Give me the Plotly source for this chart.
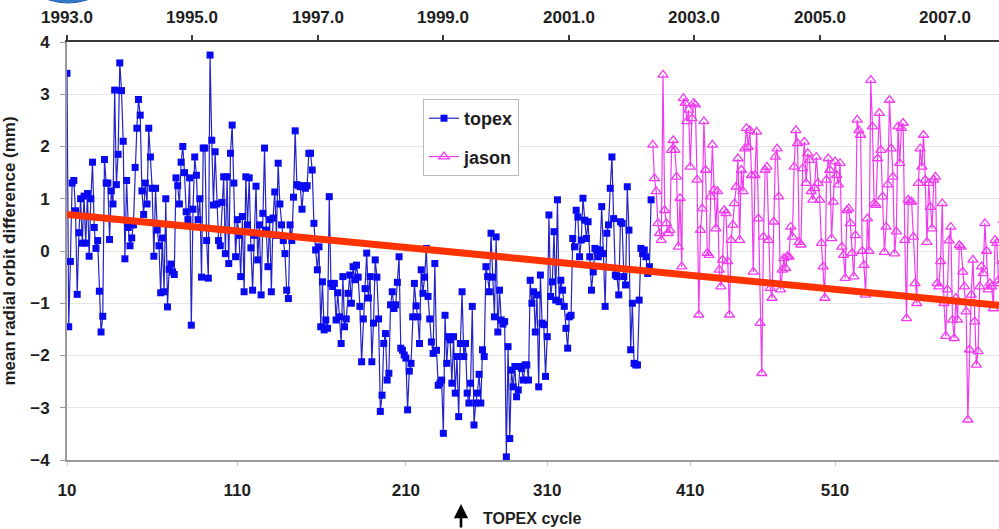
import plotly.graph_objects as go

# ---------------- data ----------------
topex_mm = [
    # 1993.0 - ~1993.5
    3.4, -1.45, -0.2, 1.3, 1.35, 0.77, -0.83, 0.35, 1.0, 0.15, 1.05, 0.15, 1.1, -0.1, 1.0, 1.7, 0.45, 0.05, 0.2,
    # ~1993.5 - ~1995.1
    -0.77, -1.55, -1.25, 1.75, 1.3, 1.3, 0.22, 1.15, 0.9, 3.08, 1.27, 1.85, 3.6, 3.07, 2.1, -0.15, 1.35, 0.45, 0.1,
    0.25, 0.5, 1.6, 2.35, 2.9, 2.6, 1.15, 0.7, 1.3, 0.9, 2.35, 1.8, 1.2, -0.1, 1.2, 0.4, 0.1, -0.8, 0.25, -0.78,
    1.0, -1.07, -0.35, -0.25, -0.4, -0.45, 1.4, 1.25, 0.9, 1.7, 2.0, 1.5, 0.75, 0.6, 1.4, -1.42, 0.8, 1.8, 1.45, 0.6,
    # ~1995.1 - ~1996.8
    1.0, -0.5, 1.97, 1.97, 0.2, -0.52, 3.75, 2.12, 0.88, 1.9, 0.9, 0.2, 0.1, 0.93, 1.42, -0.05, 1.42, -0.24, 1.87,
    2.41, 1.3, -0.11, 0.6, 0.3, -0.49, 0.66, -0.78, 1.42, 0.5, 1.4, 0.06, -0.75, 0.3, 1.24, -0.17, 0.5, -0.84, 0.72,
    1.97, 0.4, -0.3, 0.6, -0.78, 0.63, 1.13, 0.3, 1.68, 0.9, 0.5, 0.2, -0.05, -0.75, -0.91, 0.5, 0.2, 1.03, 2.3,
    1.27, 1.25,
    # ~1996.8 - ~2002.3
    1.23, 0.8, 1.25, 1.2, 1.25, 1.87, 1.87, 1.55, 0.53, 0.02, -0.36, 0.08, -1.45, -0.59, -1.51, -1.32, -1.48, 1.04,
    -0.62, -0.68, -0.62, -1.32, -0.8, -1.26, -1.77, -0.49, -1.45, -1.3, -0.81, -0.46, -1.0, -0.3, -0.55, -0.27,
    -0.5, -1.06, -2.12, -1.3, -0.72, -0.04, -0.9, -0.49, -2.12, -1.38, -0.17, -0.5, -1.3, -3.07, -2.76, -1.77,
    -1.58, -2.47, -2.34, -1.03, -0.78, -1.1, -1.03, -0.6, -0.11, -1.86, -1.9, -1.99, -2.05, -3.04, -2.3, -2.15,
    -1.26, -0.62, -1.05, -1.26, -1.77, -0.36, -0.81, -0.5, 0.05, -0.87, -1.3, -1.74, -1.96, -0.24, -1.9, -2.57,
    -2.53, -2.47, -3.49, -1.23, -2.15, -1.64, -1.7, -2.53, -1.64, -2.72, -2.02, -3.17, -1.77, -0.78, -2.02, -1.77,
    -2.72, -2.91, -2.53, -1.06, -3.33, -2.91, -2.72, -2.36, -2.91, -1.89, -2.02, -0.3, -0.49, -0.78, 0.34, -0.5,
    -1.26, 0.27, -1.55, -0.75, -1.32, -1.4, -1.35, -3.94, -1.83, -3.59, -2.28, -2.6, -2.21, -2.79, -2.66, -2.21,
    -2.25, -2.47, -2.18, -2.18, -2.47, -0.56, -1.0, -0.78, -1.55, -0.84, -2.6, -0.46, -1.38, -1.41, -2.4, -1.64,
    0.69, -0.87, -0.59, 0.37, -0.94, 0.98, -0.97, -0.56, -0.75, -1.06, -1.48, -1.86, -1.26, -1.23, 0.24, 0.08,
    0.78, 0.65, -0.11, 0.21, 1.01, 0.59, 0.24, 0.56, -0.11, -0.75, -0.4, 0.05, 0.02, -0.11, 0.02, 0.85, -0.05,
    -1.06, 0.34, 0.5, 1.2, 1.8, 0.62, -0.46, -0.49, -0.84, 0.56, 0.53, -0.49, -0.65, 1.23, 0.4, -1.89, -1.0,
    -2.15, -2.18, -2.18, -0.94, 0.05, -0.05, 0.02, -0.11, -0.43, -0.3, 0.98,
]

jason_mm = [
    2.03, 1.39, 1.14, 0.53, 0.34, 0.21, 3.37, 0.78, 0.53, 0.34, 0.4, 1.93, 2.12, 1.93, 1.42, 0.08, 1.01, -0.3,
    2.92, 2.83, 2.48, 2.7, 1.61, 2.54, 2.83, 2.8, 1.36, -1.22, 0.40, 0.81, 2.48, 1.55, -0.04, -0.08, 1.04, 2.03,
    1.17, 0.43, 1.14, -0.36, -0.68, -0.17, 0.78, 0.72, -0.2, -1.22, 0.21, 0.5, 0.91, 1.23, 1.77, 0.21, 1.55,
    1.14, 1.96, 2.35, 1.99, 2.31, 1.45, -0.40, 1.45, 2.28, 0.62, -1.38, -2.34, 0.27, 1.55, 1.61, 0.21, -0.71,
    -0.9, 0.56, 1.8, 1.96, 1.04, -0.74, -0.36, -0.14, -0.33, -0.1, -0.11, 0.46, 0.27, 1.61, 2.31, 2.06, 0.17,
    0.12, 1.58, 2.09, 1.3, 1.87, 1.74, 1.14, 0.98, 1.2, 1.8, 1.3, 0.98, 0.15, -0.3, -0.9, 1.36, 1.77, 1.55, 0.24,
    0.94, 1.71, 1.45, 1.27, 1.68, 0.08, -0.08, -0.52, 0.78, 0.81, 0.53, -0.04, -0.49, 0.3, 2.51, 2.31, 2.22, 0.0,
    -0.27, -0.84, 0.62, 0.0, 3.27, 2.38, 0.91, 0.88, 1.77, 2.64, 1.93, 1.04, -0.02, 0.46, 1.27, 2.89, 1.96, 1.42,
    -0.05, 0.37, 2.38, 1.68, 2.35, 2.45, 0.21, -1.29, 0.98, 0.94, 0.94, 0.27, -0.62, -1.0, 1.3, 1.96, 1.61, 2.22,
    1.36, 0.17, 1.3, 0.84, 0.43, 1.36, 1.42, -0.62, -0.68, -0.2, 0.91, -1.0, -1.63, -0.74, 0.2, 0.46, -1.32,
    -1.67, -0.9, -1.32, 0.11, 0.08, -0.4, -0.68, -1.16, -3.23, -1.89, -0.84, -0.17, -1.35, -2.18, -1.92, -0.68,
    -0.3, -0.43, 0.53, 0.0, -0.74, -0.62, -0.68, -1.1, 0.21, 0.15, -0.56, -0.62, -0.2, 0.59, 1.93, -1.9, -3.0,
    -1.0,
]

TOPEX_FIRST_CYCLE = 10
topex_cycle = list(range(TOPEX_FIRST_CYCLE, TOPEX_FIRST_CYCLE + len(topex_mm)))
JASON_TOPEX_OFFSET = 353          # jason cycle n plotted at TOPEX-cycle n + offset
jason_cycle = list(range(1, len(jason_mm) + 1))
jason_x = [c + JASON_TOPEX_OFFSET for c in jason_cycle]

trend_cycle = [10, 557.3]
trend_mm = [0.70, -1.04]

X_RANGE = [10, 557.3]
CYCLE_DAYS = 9.9156
year_ticks = [1993, 1995, 1997, 1999, 2001, 2003, 2005, 2007]
year_pos = [10 + (y - 1993) * 365.25 / CYCLE_DAYS for y in year_ticks]
year_text = [f"{y}.0" for y in year_ticks]

cycle_labels = ["10", "110", "210", "310", "410", "510"]
cycle_label_pos = [10, 110, 209, 292, 376, 461]

FONT = "Liberation Sans, Arial, sans-serif"
TXT = "#1e1e1e"

fig = go.Figure()
fig.add_trace(go.Scatter(
    x=topex_cycle, y=topex_mm, mode="lines+markers", name="topex",
    legendgroup="a",
    line=dict(color="#2424c8", width=1.2),
    marker=dict(symbol="square", size=7, color="#0a0af0", line=dict(width=0)),
))
fig.add_trace(go.Scatter(
    x=jason_x, y=jason_mm, mode="lines+markers", name="jason",
    legendgroup="b",
    line=dict(color="#ee3cee", width=1.2),
    marker=dict(symbol="triangle-up-open", size=9, color="#f03cf0", line=dict(width=1.3)),
))
fig.add_trace(go.Scatter(
    x=trend_cycle, y=trend_mm, mode="lines", xaxis="x2", showlegend=False,
    line=dict(color="#ff3300", width=7), hoverinfo="skip",
))

top_axis_common = dict(
    range=X_RANGE, overlaying="x", side="top", tickmode="array",
    tickvals=year_pos, showticklabels=False,
    showgrid=False, zeroline=False, tickcolor="#3a3a3a", tickwidth=1.5, ticklen=5,
)

fig.update_layout(
    width=999, height=529,
    margin=dict(l=67, r=0, t=42, b=69),
    paper_bgcolor="white", plot_bgcolor="white",
    font=dict(family=FONT, color=TXT),
    showlegend=True,
    legend=dict(
        x=(423 - 67) / 932, y=(460 - 99) / 418, xanchor="left", yanchor="top",
        bgcolor="white", bordercolor="#b8b8b8", borderwidth=1,
        font=dict(family=FONT, size=18, color=TXT, weight="bold"),
        tracegroupgap=12, traceorder="grouped",
    ),
    xaxis=dict(
        range=X_RANGE, tickmode="array", tickvals=cycle_label_pos, ticktext=cycle_labels,
        showgrid=False, zeroline=False, showline=True, linecolor="#9a9a9a", linewidth=2,
        ticks="outside", ticklen=4, tickcolor="#c8c8c8", tickwidth=1,
        ticklabelstandoff=10,
        tickfont=dict(family=FONT, size=17, color=TXT, weight="bold"),
    ),
    xaxis2=dict(**top_axis_common, showline=True, linecolor="#3a3a3a", linewidth=2,
                ticks="outside"),
    xaxis3=dict(**top_axis_common, showline=False, ticks="inside"),
    yaxis=dict(
        range=[-4, 4], dtick=1, tick0=0,
        showgrid=True, gridcolor="#e6e6e6", gridwidth=1, zeroline=False,
        showline=True, linecolor="#9a9a9a", linewidth=2,
        ticks="outside", ticklen=5, tickcolor="#9a9a9a",
        ticklabelstandoff=7,
        tickfont=dict(family=FONT, size=17, color=TXT, weight="bold"),
        title=dict(text="mean radial orbit difference (mm)", standoff=10,
                   font=dict(family=FONT, size=17, color=TXT, weight="bold")),
    ),
)

# year labels of the top axis
for pos, txt in zip(year_pos, year_text):
    fig.add_annotation(
        xref="x2", yref="paper", x=pos, y=(460 - 17) / 418,
        xanchor="center", yanchor="middle", showarrow=False, text=txt,
        font=dict(family=FONT, size=17, color=TXT, weight="bold"),
    )

# arrow and axis caption under the bottom axis
fig.add_annotation(
    xref="paper", yref="paper", x=(461 - 67) / 932, y=(460 - 504) / 418,
    ax=0, ay=28, text="", showarrow=True, arrowhead=2, arrowsize=1.1,
    arrowwidth=2.6, arrowcolor="black",
)
fig.add_annotation(
    xref="paper", yref="paper", x=(481 - 67) / 932, y=(460 - 518) / 418,
    xanchor="left", yanchor="middle", showarrow=False, text="TOPEX cycle",
    font=dict(family=FONT, size=16, color=TXT, weight="bold"),
)

# partial blue logo at the very top-left corner
fig.add_shape(
    type="circle", xref="paper", yref="paper", layer="below",
    x0=(20 - 67) / 932, x1=(116 - 67) / 932,
    y0=(460 - 3) / 418, y1=(460 + 70) / 418,
    fillcolor="#3276c8", line=dict(color="#2a62b0", width=1),
)

fig.write_html("out.html")
